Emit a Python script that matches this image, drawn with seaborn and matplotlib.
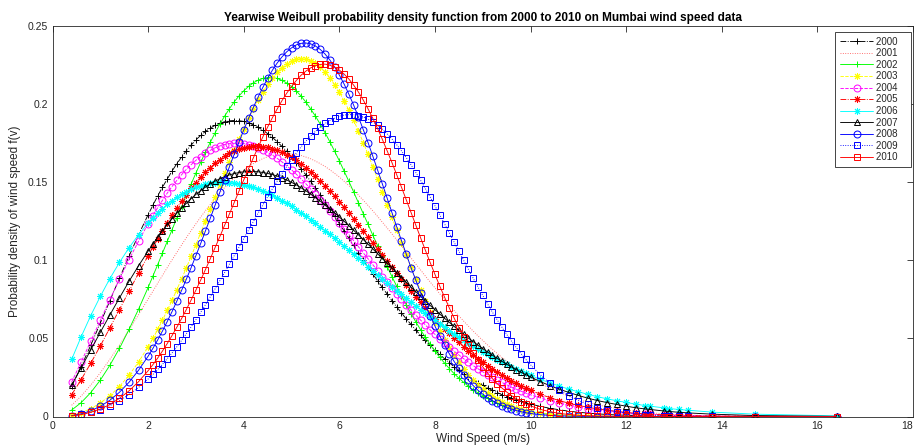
import matplotlib
matplotlib.use("Agg")
import matplotlib.pyplot as plt
import seaborn as sns

# ---------------- data ----------------
wind_speed = [0.4, 0.6, 0.8, 1.0, 1.2, 1.4, 1.6, 1.8,
              2.0, 2.1, 2.2, 2.3, 2.4, 2.5, 2.6, 2.7, 2.8, 2.9,
              3.0, 3.1, 3.2, 3.3, 3.4, 3.5, 3.6, 3.7, 3.8, 3.9,
              4.0, 4.1, 4.2, 4.3, 4.4, 4.5, 4.6, 4.7, 4.8, 4.9,
              5.0, 5.1, 5.2, 5.3, 5.4, 5.5, 5.6, 5.7, 5.8, 5.9,
              6.0, 6.1, 6.2, 6.3, 6.4, 6.5, 6.6, 6.7, 6.8, 6.9,
              7.0, 7.1, 7.2, 7.3, 7.4, 7.5, 7.6, 7.7, 7.8, 7.9,
              8.0, 8.1, 8.2, 8.3, 8.4, 8.5, 8.6, 8.7, 8.8, 8.9,
              9.0, 9.1, 9.2, 9.3, 9.4, 9.5, 9.6, 9.7, 9.8, 9.9,
              10.0, 10.2, 10.4, 10.6, 10.8, 11.0, 11.2, 11.4, 11.6,
              11.8, 12.0, 12.2, 12.4, 12.5, 12.8, 12.9, 13.1, 13.3, 13.8, 14.7, 16.4]

years = ["2000", "2001", "2002", "2003", "2004", "2005",
         "2006", "2007", "2008", "2009", "2010"]

pdf_2000 = [0.0193, 0.0320, 0.0456, 0.0598, 0.0741, 0.0885, 0.1026, 0.1163,
            0.1292, 0.1352, 0.1412, 0.1468, 0.1520, 0.1571, 0.1618, 0.1661, 0.1701, 0.1738,
            0.1771, 0.1800, 0.1825, 0.1846, 0.1864, 0.1878, 0.1887, 0.1893, 0.1895, 0.1894,
            0.1889, 0.1880, 0.1868, 0.1852, 0.1833, 0.1811, 0.1787, 0.1759, 0.1729, 0.1697,
            0.1662, 0.1625, 0.1587, 0.1547, 0.1505, 0.1462, 0.1418, 0.1373, 0.1328, 0.1282,
            0.1235, 0.1188, 0.1142, 0.1095, 0.1049, 0.1003, 0.0957, 0.0913, 0.0869, 0.0826,
            0.0784, 0.0742, 0.0702, 0.0663, 0.0625, 0.0589, 0.0554, 0.0519, 0.0487, 0.0455,
            0.0426, 0.0397, 0.0370, 0.0344, 0.0319, 0.0296, 0.0275, 0.0254, 0.0234, 0.0216,
            0.0199, 0.0183, 0.0168, 0.0153, 0.0140, 0.0128, 0.0117, 0.0106, 0.0097, 0.0088,
            0.0080, 0.0065, 0.0053, 0.0043, 0.0034, 0.0027, 0.0022, 0.0017, 0.0013,
            0.0010, 0.0008, 0.0006, 0.0005, 0.0004, 0.0003, 0.0002, 0.0002, 0.0001, 0.0001, 0.0000, 0.0000]

pdf_2001 = [0.0072, 0.0131, 0.0201, 0.0280, 0.0366, 0.0457, 0.0553, 0.0652,
            0.0752, 0.0802, 0.0853, 0.0903, 0.0953, 0.1002, 0.1050, 0.1098, 0.1145, 0.1190,
            0.1234, 0.1277, 0.1318, 0.1358, 0.1396, 0.1432, 0.1465, 0.1497, 0.1526, 0.1553,
            0.1577, 0.1600, 0.1619, 0.1636, 0.1651, 0.1663, 0.1672, 0.1678, 0.1682, 0.1683,
            0.1681, 0.1677, 0.1671, 0.1661, 0.1650, 0.1635, 0.1619, 0.1601, 0.1580, 0.1557,
            0.1533, 0.1506, 0.1478, 0.1449, 0.1417, 0.1385, 0.1351, 0.1317, 0.1281, 0.1244,
            0.1207, 0.1169, 0.1131, 0.1093, 0.1054, 0.1015, 0.0976, 0.0938, 0.0899, 0.0861,
            0.0824, 0.0786, 0.0750, 0.0714, 0.0679, 0.0644, 0.0611, 0.0578, 0.0547, 0.0516,
            0.0487, 0.0458, 0.0430, 0.0404, 0.0378, 0.0355, 0.0331, 0.0309, 0.0288, 0.0268,
            0.0248, 0.0213, 0.0182, 0.0155, 0.0130, 0.0109, 0.0091, 0.0075, 0.0062,
            0.0051, 0.0041, 0.0033, 0.0027, 0.0024, 0.0017, 0.0015, 0.0012, 0.0009, 0.0005, 0.0001, 0.0000]

pdf_2002 = [0.0041, 0.0089, 0.0153, 0.0233, 0.0328, 0.0436, 0.0557, 0.0687,
            0.0826, 0.0899, 0.0972, 0.1046, 0.1121, 0.1195, 0.1270, 0.1344, 0.1417, 0.1488,
            0.1559, 0.1627, 0.1693, 0.1755, 0.1815, 0.1871, 0.1923, 0.1970, 0.2014, 0.2052,
            0.2085, 0.2113, 0.2136, 0.2153, 0.2164, 0.2170, 0.2170, 0.2164, 0.2152, 0.2135,
            0.2112, 0.2084, 0.2051, 0.2013, 0.1969, 0.1923, 0.1872, 0.1817, 0.1760, 0.1699,
            0.1637, 0.1571, 0.1505, 0.1437, 0.1368, 0.1299, 0.1231, 0.1161, 0.1094, 0.1026,
            0.0960, 0.0896, 0.0834, 0.0773, 0.0715, 0.0659, 0.0606, 0.0555, 0.0507, 0.0461,
            0.0419, 0.0379, 0.0342, 0.0307, 0.0275, 0.0246, 0.0219, 0.0194, 0.0171, 0.0151,
            0.0133, 0.0116, 0.0101, 0.0088, 0.0076, 0.0066, 0.0056, 0.0048, 0.0041, 0.0035,
            0.0030, 0.0021, 0.0015, 0.0010, 0.0007, 0.0005, 0.0003, 0.0002, 0.0001,
            0.0001, 0.0001, 0.0000, 0.0000, 0.0000, 0.0000, 0.0000, 0.0000, 0.0000, 0.0000, 0.0000, 0.0000]

pdf_2003 = [0.0009, 0.0025, 0.0050, 0.0086, 0.0133, 0.0192, 0.0264, 0.0349,
            0.0447, 0.0500, 0.0557, 0.0617, 0.0679, 0.0744, 0.0811, 0.0881, 0.0952, 0.1025,
            0.1100, 0.1176, 0.1253, 0.1329, 0.1407, 0.1483, 0.1558, 0.1632, 0.1705, 0.1776,
            0.1843, 0.1908, 0.1969, 0.2026, 0.2078, 0.2126, 0.2168, 0.2204, 0.2234, 0.2259,
            0.2276, 0.2287, 0.2291, 0.2288, 0.2277, 0.2261, 0.2237, 0.2206, 0.2169, 0.2125,
            0.2076, 0.2021, 0.1960, 0.1896, 0.1827, 0.1754, 0.1678, 0.1600, 0.1520, 0.1439,
            0.1356, 0.1275, 0.1192, 0.1112, 0.1033, 0.0955, 0.0879, 0.0807, 0.0737, 0.0670,
            0.0607, 0.0548, 0.0491, 0.0438, 0.0391, 0.0346, 0.0305, 0.0267, 0.0234, 0.0203,
            0.0176, 0.0151, 0.0129, 0.0110, 0.0093, 0.0079, 0.0066, 0.0055, 0.0046, 0.0037,
            0.0031, 0.0020, 0.0013, 0.0008, 0.0005, 0.0003, 0.0002, 0.0001, 0.0001,
            0.0000, 0.0000, 0.0000, 0.0000, 0.0000, 0.0000, 0.0000, 0.0000, 0.0000, 0.0000, 0.0000, 0.0000]

pdf_2004 = [0.0220, 0.0349, 0.0482, 0.0615, 0.0748, 0.0878, 0.1004, 0.1122,
            0.1235, 0.1286, 0.1337, 0.1384, 0.1430, 0.1472, 0.1511, 0.1548, 0.1582, 0.1612,
            0.1640, 0.1664, 0.1686, 0.1704, 0.1720, 0.1732, 0.1741, 0.1747, 0.1749, 0.1750,
            0.1747, 0.1741, 0.1732, 0.1721, 0.1708, 0.1692, 0.1673, 0.1653, 0.1630, 0.1605,
            0.1579, 0.1551, 0.1521, 0.1490, 0.1457, 0.1423, 0.1388, 0.1353, 0.1316, 0.1279,
            0.1241, 0.1203, 0.1165, 0.1126, 0.1087, 0.1048, 0.1010, 0.0972, 0.0933, 0.0896,
            0.0858, 0.0822, 0.0786, 0.0751, 0.0716, 0.0683, 0.0649, 0.0617, 0.0586, 0.0555,
            0.0526, 0.0498, 0.0470, 0.0444, 0.0418, 0.0394, 0.0370, 0.0348, 0.0326, 0.0306,
            0.0286, 0.0268, 0.0251, 0.0234, 0.0218, 0.0203, 0.0188, 0.0175, 0.0162, 0.0150,
            0.0139, 0.0119, 0.0101, 0.0085, 0.0072, 0.0060, 0.0050, 0.0042, 0.0034,
            0.0028, 0.0023, 0.0019, 0.0015, 0.0014, 0.0010, 0.0009, 0.0007, 0.0006, 0.0003, 0.0001, 0.0000]

pdf_2005 = [0.0140, 0.0236, 0.0341, 0.0452, 0.0568, 0.0685, 0.0802, 0.0917,
            0.1030, 0.1085, 0.1138, 0.1189, 0.1240, 0.1288, 0.1335, 0.1379, 0.1421, 0.1460,
            0.1498, 0.1533, 0.1565, 0.1594, 0.1621, 0.1645, 0.1666, 0.1684, 0.1699, 0.1711,
            0.1720, 0.1727, 0.1730, 0.1731, 0.1728, 0.1723, 0.1715, 0.1705, 0.1692, 0.1677,
            0.1659, 0.1639, 0.1617, 0.1592, 0.1566, 0.1538, 0.1509, 0.1478, 0.1445, 0.1411,
            0.1376, 0.1340, 0.1304, 0.1266, 0.1228, 0.1189, 0.1150, 0.1112, 0.1072, 0.1033,
            0.0994, 0.0954, 0.0916, 0.0878, 0.0840, 0.0802, 0.0766, 0.0730, 0.0695, 0.0660,
            0.0627, 0.0594, 0.0563, 0.0532, 0.0502, 0.0474, 0.0446, 0.0420, 0.0394, 0.0370,
            0.0346, 0.0324, 0.0303, 0.0282, 0.0264, 0.0246, 0.0228, 0.0212, 0.0197, 0.0182,
            0.0168, 0.0143, 0.0121, 0.0102, 0.0085, 0.0071, 0.0059, 0.0049, 0.0040,
            0.0033, 0.0026, 0.0021, 0.0017, 0.0015, 0.0011, 0.0010, 0.0008, 0.0006, 0.0003, 0.0001, 0.0000]

pdf_2006 = [0.0365, 0.0511, 0.0646, 0.0769, 0.0883, 0.0986, 0.1080, 0.1164,
            0.1238, 0.1272, 0.1303, 0.1331, 0.1358, 0.1382, 0.1403, 0.1422, 0.1440, 0.1454,
            0.1467, 0.1478, 0.1486, 0.1493, 0.1497, 0.1499, 0.1500, 0.1498, 0.1496, 0.1491,
            0.1484, 0.1476, 0.1467, 0.1456, 0.1444, 0.1430, 0.1415, 0.1399, 0.1382, 0.1364,
            0.1345, 0.1325, 0.1304, 0.1283, 0.1260, 0.1237, 0.1214, 0.1190, 0.1166, 0.1141,
            0.1115, 0.1090, 0.1064, 0.1039, 0.1013, 0.0987, 0.0960, 0.0934, 0.0909, 0.0883,
            0.0857, 0.0832, 0.0806, 0.0782, 0.0757, 0.0732, 0.0708, 0.0684, 0.0661, 0.0638,
            0.0615, 0.0593, 0.0572, 0.0550, 0.0529, 0.0509, 0.0489, 0.0470, 0.0450, 0.0432,
            0.0414, 0.0397, 0.0380, 0.0364, 0.0348, 0.0333, 0.0318, 0.0303, 0.0289, 0.0276,
            0.0263, 0.0238, 0.0216, 0.0195, 0.0175, 0.0158, 0.0142, 0.0127, 0.0113,
            0.0101, 0.0090, 0.0079, 0.0070, 0.0066, 0.0055, 0.0051, 0.0045, 0.0040, 0.0028, 0.0015, 0.0004]

pdf_2007 = [0.0201, 0.0312, 0.0426, 0.0539, 0.0650, 0.0759, 0.0865, 0.0965,
            0.1059, 0.1104, 0.1147, 0.1189, 0.1228, 0.1266, 0.1301, 0.1334, 0.1365, 0.1395,
            0.1422, 0.1446, 0.1469, 0.1489, 0.1507, 0.1522, 0.1535, 0.1547, 0.1555, 0.1562,
            0.1566, 0.1568, 0.1568, 0.1567, 0.1562, 0.1556, 0.1549, 0.1539, 0.1527, 0.1514,
            0.1499, 0.1483, 0.1464, 0.1445, 0.1424, 0.1402, 0.1379, 0.1355, 0.1330, 0.1304,
            0.1277, 0.1250, 0.1221, 0.1192, 0.1163, 0.1133, 0.1103, 0.1073, 0.1042, 0.1011,
            0.0981, 0.0950, 0.0919, 0.0889, 0.0859, 0.0828, 0.0799, 0.0769, 0.0740, 0.0711,
            0.0684, 0.0656, 0.0629, 0.0603, 0.0577, 0.0551, 0.0526, 0.0502, 0.0479, 0.0457,
            0.0435, 0.0413, 0.0393, 0.0373, 0.0353, 0.0335, 0.0317, 0.0300, 0.0283, 0.0268,
            0.0253, 0.0224, 0.0198, 0.0175, 0.0154, 0.0135, 0.0117, 0.0102, 0.0089,
            0.0077, 0.0066, 0.0056, 0.0048, 0.0045, 0.0035, 0.0032, 0.0027, 0.0023, 0.0015, 0.0006, 0.0001]

pdf_2008 = [0.0006, 0.0017, 0.0036, 0.0065, 0.0104, 0.0155, 0.0219, 0.0296,
            0.0386, 0.0436, 0.0490, 0.0547, 0.0608, 0.0671, 0.0738, 0.0807, 0.0879, 0.0953,
            0.1030, 0.1108, 0.1189, 0.1269, 0.1352, 0.1435, 0.1517, 0.1598, 0.1678, 0.1757,
            0.1833, 0.1908, 0.1978, 0.2045, 0.2107, 0.2165, 0.2217, 0.2263, 0.2302, 0.2335,
            0.2360, 0.2379, 0.2389, 0.2391, 0.2386, 0.2372, 0.2350, 0.2321, 0.2283, 0.2238,
            0.2186, 0.2128, 0.2063, 0.1993, 0.1917, 0.1837, 0.1754, 0.1667, 0.1578, 0.1489,
            0.1398, 0.1306, 0.1215, 0.1126, 0.1039, 0.0953, 0.0872, 0.0792, 0.0717, 0.0644,
            0.0579, 0.0515, 0.0458, 0.0402, 0.0353, 0.0308, 0.0267, 0.0231, 0.0198, 0.0168,
            0.0143, 0.0121, 0.0101, 0.0084, 0.0070, 0.0057, 0.0047, 0.0038, 0.0031, 0.0024,
            0.0019, 0.0012, 0.0007, 0.0004, 0.0002, 0.0001, 0.0001, 0.0000, 0.0000,
            0.0000, 0.0000, 0.0000, 0.0000, 0.0000, 0.0000, 0.0000, 0.0000, 0.0000, 0.0000, 0.0000, 0.0000]

pdf_2009 = [0.0005, 0.0013, 0.0026, 0.0044, 0.0069, 0.0101, 0.0140, 0.0186,
            0.0240, 0.0269, 0.0301, 0.0334, 0.0370, 0.0407, 0.0446, 0.0487, 0.0530, 0.0574,
            0.0620, 0.0667, 0.0716, 0.0766, 0.0817, 0.0869, 0.0921, 0.0975, 0.1029, 0.1084,
            0.1139, 0.1193, 0.1247, 0.1301, 0.1354, 0.1407, 0.1458, 0.1507, 0.1555, 0.1601,
            0.1645, 0.1687, 0.1726, 0.1762, 0.1796, 0.1826, 0.1853, 0.1876, 0.1895, 0.1910,
            0.1922, 0.1930, 0.1933, 0.1932, 0.1927, 0.1918, 0.1904, 0.1887, 0.1865, 0.1839,
            0.1810, 0.1777, 0.1740, 0.1700, 0.1657, 0.1611, 0.1562, 0.1512, 0.1459, 0.1405,
            0.1349, 0.1291, 0.1234, 0.1176, 0.1117, 0.1058, 0.1000, 0.0942, 0.0885, 0.0829,
            0.0775, 0.0721, 0.0669, 0.0620, 0.0572, 0.0526, 0.0483, 0.0442, 0.0402, 0.0366,
            0.0331, 0.0268, 0.0215, 0.0170, 0.0133, 0.0102, 0.0077, 0.0057, 0.0042,
            0.0030, 0.0022, 0.0015, 0.0010, 0.0009, 0.0005, 0.0004, 0.0002, 0.0002, 0.0001, 0.0000, 0.0000]

pdf_2010 = [0.0004, 0.0012, 0.0027, 0.0048, 0.0077, 0.0116, 0.0164, 0.0223,
            0.0293, 0.0332, 0.0374, 0.0419, 0.0467, 0.0518, 0.0571, 0.0627, 0.0685, 0.0746,
            0.0809, 0.0874, 0.0941, 0.1010, 0.1081, 0.1151, 0.1224, 0.1296, 0.1369, 0.1442,
            0.1514, 0.1586, 0.1655, 0.1723, 0.1790, 0.1853, 0.1913, 0.1969, 0.2022, 0.2070,
            0.2113, 0.2151, 0.2185, 0.2211, 0.2232, 0.2246, 0.2254, 0.2256, 0.2249, 0.2237,
            0.2218, 0.2192, 0.2160, 0.2121, 0.2077, 0.2026, 0.1970, 0.1909, 0.1844, 0.1774,
            0.1701, 0.1626, 0.1548, 0.1468, 0.1387, 0.1306, 0.1225, 0.1144, 0.1064, 0.0986,
            0.0910, 0.0835, 0.0765, 0.0695, 0.0631, 0.0569, 0.0512, 0.0458, 0.0406, 0.0361,
            0.0318, 0.0279, 0.0243, 0.0211, 0.0183, 0.0157, 0.0134, 0.0114, 0.0096, 0.0081,
            0.0068, 0.0046, 0.0031, 0.0020, 0.0013, 0.0008, 0.0005, 0.0003, 0.0002,
            0.0001, 0.0001, 0.0000, 0.0000, 0.0000, 0.0000, 0.0000, 0.0000, 0.0000, 0.0000, 0.0000, 0.0000]

series = [pdf_2000, pdf_2001, pdf_2002, pdf_2003, pdf_2004, pdf_2005,
          pdf_2006, pdf_2007, pdf_2008, pdf_2009, pdf_2010]
for yr, s in zip(years, series):
    assert len(s) == len(wind_speed), (yr, len(s), len(wind_speed))

x_ticks = [0, 2, 4, 6, 8, 10, 12, 14, 16, 18]
y_ticks = [0, 0.05, 0.1, 0.15, 0.2, 0.25]
y_tick_labels = ["0", "0.05", "0.1", "0.15", "0.2", "0.25"]

title = "Yearwise Weibull probability density function from 2000 to 2010 on Mumbai wind speed data"

# ---------------- styling ----------------
ASTER = (8, 2, 0)   # MATLAB-like asterisk
styles = [
    dict(color="#000000", marker="+", linestyle="-."),
    dict(color="#ff6060", marker=None, linestyle=":"),
    dict(color="#00ff00", marker="+", linestyle="-"),
    dict(color="#ffff00", marker=ASTER, linestyle="--"),
    dict(color="#ff00ff", marker="o", linestyle="--"),
    dict(color="#ff0000", marker=ASTER, linestyle="-."),
    dict(color="#00ffff", marker=ASTER, linestyle="-"),
    dict(color="#000000", marker="^", linestyle="-"),
    dict(color="#0000ff", marker="o", linestyle="-"),
    dict(color="#0000ff", marker="s", linestyle=":"),
    dict(color="#ff0000", marker="s", linestyle="-"),
]

sns.set_style("white")
plt.rcParams["font.family"] = ["Liberation Sans", "DejaVu Sans"]
DARK = "#262626"

W, H = 917, 446
fig = plt.figure(figsize=(W / 100, H / 100), dpi=100)
left, right, top, bottom = 52.5, 913, 26, 416.5
ax = fig.add_axes([left / W, (H - bottom) / H, (right - left) / W, (bottom - top) / H])

for year, vals, st in zip(years, series, styles):
    sns.lineplot(x=wind_speed, y=vals, ax=ax, sort=False, estimator=None,
                 color=st["color"], linestyle=st["linestyle"], marker=st["marker"],
                 markersize=5, markerfacecolor="none", markeredgecolor=st["color"],
                 markeredgewidth=0.7, linewidth=0.65, label=year + "   ")

ax.set_xlim(0, 18)
ax.set_ylim(0, 0.25)
ax.set_xticks(x_ticks)
ax.set_xticklabels([str(t) for t in x_ticks])
ax.set_yticks(y_ticks)
ax.set_yticklabels(y_tick_labels)
ax.tick_params(direction="in", top=True, right=True, length=4, width=0.6,
               color=DARK, labelcolor=DARK, labelsize=7.5, pad=3)
# keep the last x tick label inside the figure
ax.get_xticklabels()[-1].set_horizontalalignment("right")
for sp in ax.spines.values():
    sp.set_visible(True)
    sp.set_color(DARK)
    sp.set_linewidth(0.6)

ax.set_xlabel("Wind Speed (m/s)", fontsize=8.5, color=DARK, labelpad=2)
ax.set_ylabel("Probability density of wind speed f(v)", fontsize=8.5, color=DARK, labelpad=5)
fig.text(482.5 / W, 1 - 18 / H, title, ha="center", va="center",
         fontsize=8.5, fontweight="bold", color="#000000")

leg = ax.legend(loc="upper right", bbox_to_anchor=(0.9977, 0.985), fontsize=7,
                frameon=True, fancybox=False, edgecolor=DARK, framealpha=1,
                borderpad=0.5, labelspacing=0.16, handlelength=3.4, handletextpad=0.3,
                borderaxespad=0, numpoints=1)
leg.get_frame().set_linewidth(0.6)

fig.savefig("out.png", dpi=100)
